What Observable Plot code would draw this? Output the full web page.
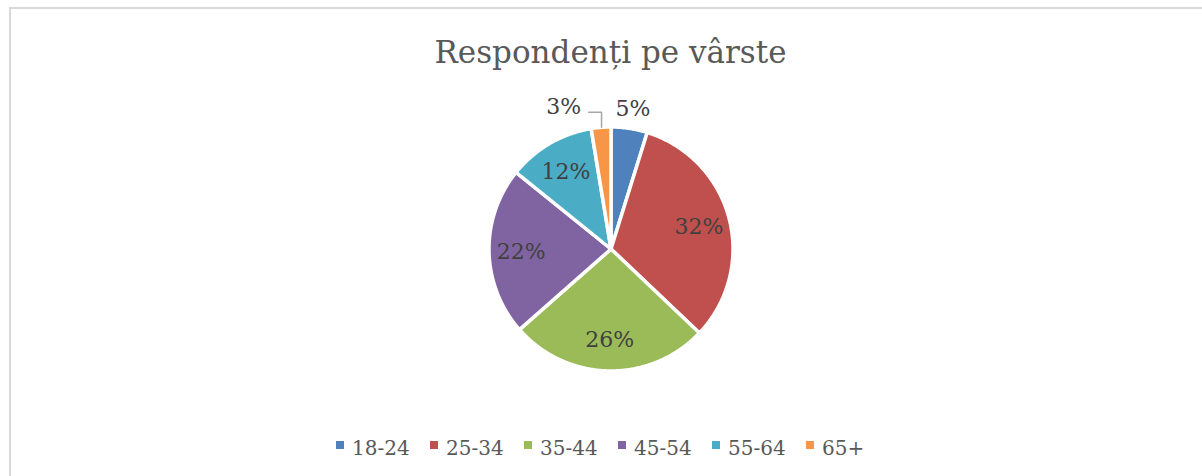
<!DOCTYPE html>
<html>
<head>
<meta charset="utf-8">
<script src="https://cdn.jsdelivr.net/npm/d3@7"></script>
<script src="https://cdn.jsdelivr.net/npm/@observablehq/plot@0.6"></script>
<style>
  html, body { margin: 0; padding: 0; background: #fff; }
  body { width: 1202px; height: 476px; overflow: hidden; position: relative; font-family: "DejaVu Serif", serif; }
  #frame { position: absolute; left: 9px; top: 7px; width: 1400px; height: 700px; border-left: 2px solid #d9d9d9; border-top: 2px solid #d9d9d9; box-sizing: border-box; }
  #chart { position: absolute; left: 0; top: 0; }
  #title { position: absolute; left: 0; width: 1221px; top: 37px; text-align: center; font-size: 31px; line-height: 1; color: #595959; white-space: nowrap; }
  #legend { position: absolute; left: 336px; top: 438px; display: flex; font-size: 20px; line-height: 1; color: #595959; white-space: nowrap; }
  .item { display: flex; align-items: center; width: 94px; }
  .item:last-child { width: auto; }
  .sw { display: inline-block; width: 8px; height: 8px; margin-right: 8px; position: relative; top: -3px; }
</style>
</head>
<body>
<div id="frame"></div>
<div id="chart"></div>
<div id="title"></div>
<div id="legend"></div>
<script>
const titleText = "Respondenți pe vârste";
const categories = ["18-24", "25-34", "35-44", "45-54", "55-64", "65+"];
const values = [4.8, 32.3, 26.4, 22.3, 11.6, 2.6];
const colors = ["#4F81BD", "#C0504D", "#9BBB59", "#8064A2", "#4BACC6", "#F79646"];

const cx = 611, cy = 249, R = 122;

const rows = categories.map((c, i) => ({category: c, value: values[i]}));
const total = d3.sum(values);
const arcs = d3.pie().sort(null).value(d => d.value)(rows);

// polygon outline points of each slice along its arc (unit radius)
const slicePts = arcs.flatMap(a => {
  const span = a.endAngle - a.startAngle;
  const n = Math.max(2, Math.ceil(span / (Math.PI / 360)));
  return d3.range(n + 1).map(k => {
    const t = a.startAngle + span * k / n;
    return {category: a.data.category, x: Math.sin(t), y: Math.cos(t)};
  });
});

const labelData = arcs.map(a => {
  const mid = (a.startAngle + a.endAngle) / 2;
  const pct = Math.round(a.data.value / total * 100);
  return {category: a.data.category, mid, pct, text: pct + "%", index: a.index};
});
const inside = labelData.filter(d => d.pct >= 8).map(d => ({...d, x: 0.74 * Math.sin(d.mid), y: 0.74 * Math.cos(d.mid)}));
const outsideSmall = labelData.filter(d => d.pct < 8);
const leaderOne = outsideSmall.filter(d => d.index === arcs.length - 1);
const outsidePlain = outsideSmall.filter(d => d.index !== arcs.length - 1)
  .map(d => ({...d, x: 1.165 * Math.sin(d.mid), y: 1.165 * Math.cos(d.mid)}));

const leaderPts = leaderOne.flatMap(d => {
  const mx = Math.sin(d.mid), my = Math.cos(d.mid);
  return [
    {category: d.category, x: mx, y: my + 0.005},
    {category: d.category, x: mx, y: 1.125},
    {category: d.category, x: mx - 0.105, y: 1.125}
  ];
});
const leaderLabels = leaderOne.map(d => ({...d, x: Math.sin(d.mid) - 0.168, y: 1.165}));

const font = "DejaVu Serif";
const plot = Plot.plot({
  width: 1202,
  height: 476,
  margin: 0,
  style: {background: "transparent", overflow: "visible"},
  x: {domain: [-1, 1], range: [cx - R, cx + R], axis: null},
  y: {domain: [-1, 1], range: [cy + R, cy - R], axis: null},
  color: {domain: categories, range: colors},
  marks: [
    Plot.area(slicePts, {x1: "x", y1: "y", x2: 0, y2: 0, z: "category", fill: "category", stroke: "white", strokeWidth: 3.5, strokeLinejoin: "round"}),
    Plot.line(leaderPts, {x: "x", y: "y", z: "category", stroke: "#a6a6a6", strokeWidth: 1.5}),
    Plot.text(inside, {x: "x", y: "y", text: "text", fontSize: 22, fill: "#404040", fontFamily: font, textAnchor: "middle", lineAnchor: "middle"}),
    Plot.text(outsidePlain, {x: "x", y: "y", text: "text", fontSize: 22, fill: "#404040", fontFamily: font, textAnchor: "middle", lineAnchor: "middle"}),
    Plot.text(leaderLabels, {x: "x", y: "y", text: "text", fontSize: 22, fill: "#404040", fontFamily: font, textAnchor: "end", lineAnchor: "middle"})
  ]
});
document.getElementById("chart").appendChild(plot);

document.getElementById("title").textContent = titleText;
const legend = document.getElementById("legend");
categories.forEach((c, i) => {
  const item = document.createElement("div");
  item.className = "item";
  const sw = document.createElement("span");
  sw.className = "sw";
  sw.style.background = colors[i];
  const tx = document.createElement("span");
  tx.textContent = c;
  item.appendChild(sw);
  item.appendChild(tx);
  legend.appendChild(item);
});
</script>
</body>
</html>
